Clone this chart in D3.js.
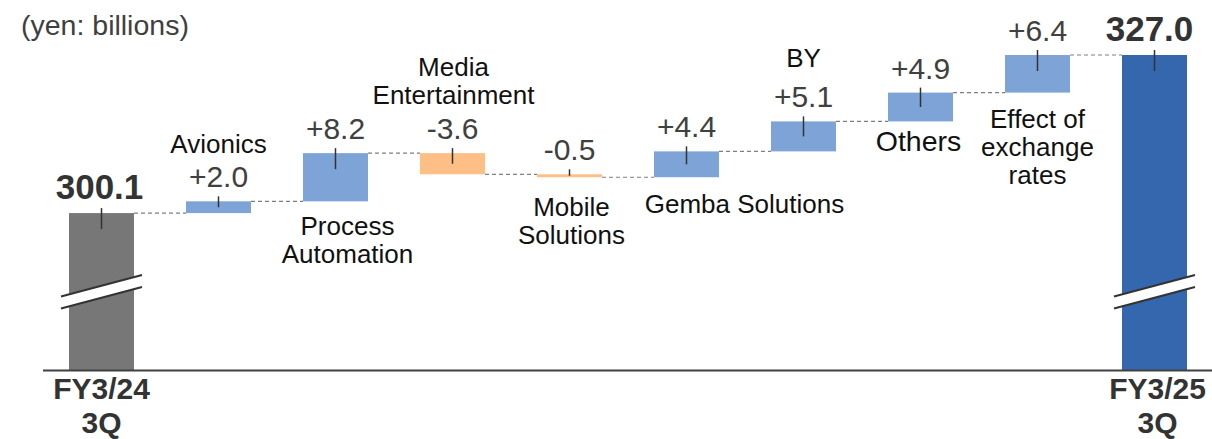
<!DOCTYPE html>
<html>
<head>
<meta charset="utf-8">
<script src="https://cdn.jsdelivr.net/npm/d3@7"></script>
<style>
  html, body { margin: 0; padding: 0; background: #ffffff; }
  svg { display: block; font-family: "Liberation Sans", Arial, sans-serif; }
</style>
</head>
<body>
<svg id="chart" width="1212" height="439"></svg>
<script>
// ---- data ----
const categories = ["FY3/24 3Q", "Avionics", "Process Automation", "Media Entertainment",
  "Mobile Solutions", "Gemba Solutions", "BY", "Others", "Effect of exchange rates", "FY3/25 3Q"];
const startTotal = 300.1;
const endTotal = 327.0;
const changes = [2.0, 8.2, -3.6, -0.5, 4.4, 5.1, 4.9, 6.4];
const valueLabels = ["300.1", "+2.0", "+8.2", "-3.6", "-0.5", "+4.4", "+5.1", "+4.9", "+6.4", "327.0"];
const categoryLines = [
  ["FY3/24", "3Q"], ["Avionics"], ["Process", "Automation"], ["Media", "Entertainment"],
  ["Mobile", "Solutions"], ["Gemba Solutions"], ["BY"], ["Others"],
  ["Effect of", "exchange", "rates"], ["FY3/25", "3Q"]
];

// ---- layout / style ----
const W = 1212, H = 439;
const baselineY = 370;
const labelPlace = ["axis", "above", "below", "above", "below", "below", "above", "below", "below", "axis"];
const labelDx = [0, 0, 12, 1, 2, 58, 0, -2, 0, 3];
const labelGap = [0, 34, 34, 35, 39, 36, 40, 30, 35, 0];
const valueDx = [-2, 0, 0, 0, 0, 0, 0, 0, 0, -5];
const catFont = [30, 26, 26, 26, 26, 26, 26, 28.5, 26, 30];
const colors = { start: "#777777", end: "#3467ae", up: "#7da3d7", down: "#fdbf86" };

const svg = d3.select("#chart");

const x = d3.scaleBand().domain(categories).range([43, 1213])
  .paddingInner(0.4444).paddingOuter(0.2222);
const y = d3.scaleLinear().domain([273.4, 327.0]).range([baselineY, 55]);

// build waterfall rows
const rows = [];
let cum = startTotal;
rows.push({ cat: categories[0], type: "start", lo: null, hi: startTotal, level: startTotal });
changes.forEach((c, i) => {
  const prev = cum;
  cum = +(cum + c).toFixed(1);
  rows.push({ cat: categories[i + 1], type: c >= 0 ? "up" : "down",
    lo: Math.min(prev, cum), hi: Math.max(prev, cum), level: cum });
});
rows.push({ cat: categories[categories.length - 1], type: "end", lo: null, hi: endTotal, level: endTotal });

rows.forEach(r => {
  r.top = y(r.hi);
  r.bottom = r.lo === null ? baselineY : y(r.lo);
});

// title
svg.append("text").attr("x", 21).attr("y", 35)
  .attr("font-size", 28.5).attr("fill", "#404040").text("(yen: billions)");

// dashed connectors
for (let i = 0; i < rows.length - 1; i++) {
  const ly = y(rows[i].level);
  svg.append("line")
    .attr("x1", x(rows[i].cat) + x.bandwidth()).attr("x2", x(rows[i + 1].cat))
    .attr("y1", ly).attr("y2", ly)
    .attr("stroke", "#7f7f7f").attr("stroke-width", 1.2).attr("stroke-dasharray", "4,3");
}

// bars
svg.selectAll("rect.bar").data(rows).join("rect")
  .attr("class", "bar")
  .attr("x", d => x(d.cat)).attr("width", x.bandwidth())
  .attr("y", d => d.top).attr("height", d => Math.max(2.5, d.bottom - d.top))
  .attr("fill", d => colors[d.type]);

// break marks on total bars
rows.filter(d => d.type === "start" || d.type === "end").forEach(d => {
  const x0 = x(d.cat) - 8, x1 = x(d.cat) + x.bandwidth() + 8;
  const yA0 = 296.5, yA1 = 275, gap = 12;
  svg.append("polygon")
    .attr("points", `${x0},${yA0} ${x1},${yA1} ${x1},${yA1 + gap} ${x0},${yA0 + gap}`)
    .attr("fill", "#ffffff");
  [0, gap].forEach(o => {
    svg.append("line").attr("x1", x0).attr("y1", yA0 + o).attr("x2", x1).attr("y2", yA1 + o)
      .attr("stroke", "#333333").attr("stroke-width", 2);
  });
});

// small vertical ticks
rows.forEach(d => {
  const cx = x(d.cat) + x.bandwidth() / 2;
  const h = d.bottom - d.top;
  svg.append("line").attr("x1", cx).attr("x2", cx)
    .attr("y1", d.top - 5).attr("y2", d.top + Math.min(Math.max(h / 2, 1.5), 16))
    .attr("stroke", "#333333").attr("stroke-width", 1.5);
});

// axis line
svg.append("line").attr("x1", 43).attr("x2", W).attr("y1", baselineY + 0.5).attr("y2", baselineY + 0.5)
  .attr("stroke", "#404040").attr("stroke-width", 2.2);

// value labels
rows.forEach((d, i) => {
  const cx = x(d.cat) + x.bandwidth() / 2 + valueDx[i];
  const isTotal = d.type === "start" || d.type === "end";
  svg.append("text")
    .attr("x", cx).attr("y", d.top - 14)
    .attr("text-anchor", "middle")
    .attr("font-size", isTotal ? 35 : 30)
    .attr("font-weight", isTotal ? "bold" : "normal")
    .attr("fill", isTotal ? "#333333" : "#404040")
    .text(valueLabels[i]);
});

// category labels
rows.forEach((d, i) => {
  const cx = x(d.cat) + x.bandwidth() / 2 + labelDx[i];
  const lines = categoryLines[i];
  const isAxis = labelPlace[i] === "axis";
  const lh = isAxis ? 34 : 28;
  let firstBase;
  if (isAxis) {
    firstBase = 399;
  } else if (labelPlace[i] === "above") {
    const lastBase = d.top - 14 - labelGap[i];
    firstBase = lastBase - (lines.length - 1) * lh;
  } else {
    firstBase = d.bottom + labelGap[i];
  }
  const t = svg.append("text")
    .attr("text-anchor", "middle")
    .attr("font-size", catFont[i])
    .attr("font-weight", isAxis ? "bold" : "normal")
    .attr("fill", isAxis ? "#333333" : "#111111");
  lines.forEach((ln, k) => {
    t.append("tspan").attr("x", cx).attr("y", firstBase + k * lh).text(ln);
  });
});
</script>
</body>
</html>
